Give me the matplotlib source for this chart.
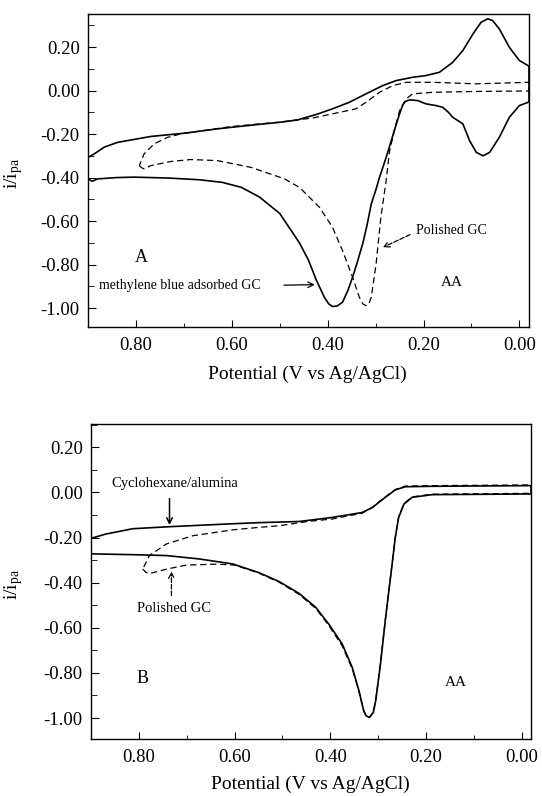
import matplotlib
matplotlib.use("Agg")
import matplotlib.pyplot as plt
from matplotlib.ticker import MultipleLocator, FormatStrFormatter

plt.rcParams['font.family'] = 'Liberation Serif'
plt.rcParams['mathtext.fontset'] = 'custom'
plt.rcParams['mathtext.rm'] = 'Liberation Serif'
plt.rcParams['mathtext.it'] = 'Liberation Serif'

# ---- panel A: methylene blue adsorbed GC (solid) ----
a_solid_E = [0.905, 0.897, 0.891, 0.88, 0.84, 0.804, 0.734, 0.668, 0.62, 0.58, 0.542, 0.50,
             0.459, 0.44, 0.424, 0.407, 0.398, 0.39, 0.38, 0.369, 0.358, 0.348, 0.337,
             0.327, 0.318, 0.309, 0.30, 0.292, 0.278, 0.27, 0.261, 0.25, 0.244, 0.24,
             0.233, 0.226, 0.212, 0.195, 0.174, 0.16, 0.148, 0.139, 0.118, 0.104, 0.09,
             0.076, 0.062, 0.042, 0.021, 0.0, -0.018, -0.02,
             -0.02, -0.018, 0.0, 0.021, 0.042, 0.056, 0.066, 0.08, 0.097, 0.118, 0.139,
             0.167, 0.195, 0.223, 0.257, 0.285, 0.32, 0.355, 0.39, 0.424, 0.463, 0.50,
             0.542, 0.63, 0.699, 0.769, 0.838, 0.866, 0.887, 0.90, 0.905]
a_solid_I = [-0.395, -0.41, -0.417, -0.406, -0.40, -0.398, -0.402, -0.41, -0.422, -0.445,
             -0.49, -0.565, -0.70, -0.78, -0.87, -0.95, -0.98, -0.993, -0.99, -0.973,
             -0.92, -0.858, -0.78, -0.705, -0.62, -0.521, -0.46, -0.40, -0.307, -0.25,
             -0.184, -0.107, -0.07, -0.054, -0.045, -0.043, -0.046, -0.061, -0.069,
             -0.077, -0.10, -0.123, -0.153, -0.23, -0.284, -0.30, -0.284, -0.215,
             -0.123, -0.069, -0.054, -0.05,
             0.11, 0.115, 0.138, 0.199, 0.284, 0.322, 0.33, 0.314, 0.26, 0.184, 0.13,
             0.084, 0.069, 0.061, 0.046, 0.023, -0.015, -0.054, -0.084, -0.11, -0.135,
             -0.146, -0.155, -0.176, -0.196, -0.211, -0.238, -0.26, -0.291, -0.307, -0.35]

# ---- panel A: polished GC (dashed) ----
a_dash_E = [0.793, 0.788, 0.783, 0.769, 0.727, 0.685, 0.63, 0.56, 0.49, 0.459, 0.417, 0.39,
            0.369, 0.348, 0.334, 0.327, 0.32, 0.314, 0.309, 0.299, 0.289, 0.278, 0.271,
            0.261, 0.25, 0.236, 0.223, 0.181, 0.09, -0.02,
            -0.02, 0.09, 0.181, 0.236, 0.264, 0.292, 0.32, 0.341, 0.39, 0.431, 0.50,
            0.60, 0.706, 0.734, 0.762, 0.783, 0.793]
a_dash_I = [-0.345, -0.355, -0.36, -0.345, -0.326, -0.317, -0.322, -0.353, -0.406, -0.445,
            -0.537, -0.628, -0.736, -0.858, -0.95, -0.98, -0.989, -0.98, -0.95, -0.797,
            -0.582, -0.414, -0.28, -0.184, -0.092, -0.038, -0.015, -0.008, -0.004, -0.002,
            0.038, 0.031, 0.038, 0.038, 0.023, -0.008, -0.054, -0.084, -0.107, -0.126,
            -0.145, -0.165, -0.199, -0.215, -0.245, -0.291, -0.345]

# ---- panel B: cyclohexane/alumina (solid) ----
b_solid_E = [0.91, 0.813, 0.742, 0.674, 0.604, 0.55, 0.507, 0.465, 0.43, 0.403, 0.375,
             0.354, 0.34, 0.33, 0.325, 0.318, 0.31, 0.305, 0.295, 0.285, 0.274, 0.264,
             0.257, 0.246, 0.229, 0.187, -0.02,
             -0.02, 0.187, 0.243, 0.264, 0.285, 0.312, 0.333, 0.396, 0.465, 0.549, 0.604,
             0.736, 0.813, 0.87, 0.91]
b_solid_I = [-0.272, -0.276, -0.28, -0.295, -0.317, -0.355, -0.395, -0.448, -0.51, -0.584,
             -0.672, -0.776, -0.879, -0.968, -0.99, -0.998, -0.975, -0.924, -0.761, -0.569,
             -0.377, -0.20, -0.111, -0.052, -0.022, -0.01, -0.007,
             0.03, 0.027, 0.025, 0.011, -0.022, -0.067, -0.089, -0.111, -0.129, -0.134,
             -0.139, -0.152, -0.161, -0.185, -0.21]

# ---- panel B: polished GC (dashed) ----
b_dash_E = [0.792, 0.785, 0.778, 0.76, 0.742, 0.70, 0.638, 0.60, 0.55, 0.507, 0.465, 0.43,
            0.403, 0.375, 0.354, 0.34, 0.33, 0.325, 0.318, 0.31, 0.305, 0.295, 0.285,
            0.274, 0.264, 0.257, 0.246, 0.229, 0.187, -0.02,
            -0.02, 0.187, 0.243, 0.264, 0.285, 0.312, 0.333, 0.396, 0.444, 0.507, 0.549,
            0.604, 0.687, 0.742, 0.778, 0.792]
b_dash_I = [-0.34, -0.355, -0.36, -0.35, -0.34, -0.322, -0.318, -0.322, -0.357, -0.398,
            -0.452, -0.515, -0.59, -0.68, -0.782, -0.882, -0.968, -0.99, -0.997, -0.973,
            -0.921, -0.758, -0.566, -0.374, -0.197, -0.108, -0.05, -0.02, -0.008, -0.004,
            0.033, 0.03, 0.028, 0.013, -0.02, -0.066, -0.092, -0.118, -0.128, -0.148,
            -0.155, -0.166, -0.192, -0.228, -0.28, -0.34]

x_ticks = [0.80, 0.60, 0.40, 0.20, 0.00]

fig = plt.figure(figsize=(5.42, 7.96), dpi=100)
axA = fig.add_axes([0.1624, 0.5892, 0.8136, 0.3932])
axB = fig.add_axes([0.168, 0.0716, 0.812, 0.3957])

def style(ax, ylim, lab_x, lab_y):
    ax.set_xlim(0.90, -0.02)
    ax.set_ylim(*ylim)
    ax.set_xticks(x_ticks)
    ax.xaxis.set_minor_locator(MultipleLocator(0.1))
    ax.yaxis.set_major_locator(MultipleLocator(0.2))
    ax.yaxis.set_minor_locator(MultipleLocator(0.1))
    ax.xaxis.set_major_formatter(FormatStrFormatter('%.2f'))
    ax.yaxis.set_major_formatter(FormatStrFormatter('%.2f'))
    ax.tick_params(which='both', direction='in', top=False, right=False, labelsize=13.5)
    ax.tick_params(axis='x', which='major', length=5, pad=7)
    ax.tick_params(axis='x', which='minor', length=3)
    ax.tick_params(axis='y', which='major', length=6, pad=6)
    ax.tick_params(axis='y', which='minor', length=4)
    for s in ax.spines.values():
        s.set_linewidth(1.0)
    ax.set_xlabel('Potential (V vs Ag/AgCl)', fontsize=14)
    ax.set_ylabel(r'i/i$_{\rm pa}$', fontsize=14)
    ax.xaxis.set_label_coords(0.498, lab_x)
    ax.yaxis.set_label_coords(lab_y, 0.49)

style(axA, (-1.087, 0.352), -0.125, -0.143)
style(axB, (-1.093, 0.303), -0.118, -0.15)

# panel A
axA.plot(a_solid_E, a_solid_I, color='black', lw=1.2)
axA.plot(a_dash_E, a_dash_I, color='black', lw=0.9, ls=(0, (5, 3)))
axA.text(0.789, -0.768, 'A', fontsize=13, ha='center', va='center')
axA.text(0.14, -0.883, 'AA', fontsize=11, ha='center', va='center')
axA.text(0.877, -0.897, 'methylene blue adsorbed GC', fontsize=10, ha='left', va='center')
axA.annotate('', xy=(0.421, -0.892), xytext=(0.497, -0.895),
             arrowprops=dict(arrowstyle='->', color='black', lw=0.9))
axA.text(0.215, -0.644, 'Polished GC', fontsize=10, ha='left', va='center')
axA.annotate('', xy=(0.29, -0.726), xytext=(0.223, -0.657),
             arrowprops=dict(arrowstyle='->', color='black', lw=0.9, linestyle='--'))

# panel B
axB.plot(b_solid_E, b_solid_I, color='black', lw=1.2)
axB.plot(b_dash_E, b_dash_I, color='black', lw=0.9, ls=(0, (5, 3)))
axB.text(0.724, 0.039, 'Cyclohexane/alumina', fontsize=10.5, ha='center', va='center')
axB.annotate('', xy=(0.736, -0.157), xytext=(0.736, -0.015),
             arrowprops=dict(arrowstyle='->', color='black', lw=1.1))
axB.text(0.727, -0.516, 'Polished GC', fontsize=10.5, ha='center', va='center')
axB.annotate('', xy=(0.732, -0.338), xytext=(0.732, -0.47),
             arrowprops=dict(arrowstyle='->', color='black', lw=0.9, linestyle='--'))
axB.text(0.792, -0.827, 'B', fontsize=13, ha='center', va='center')
axB.text(0.138, -0.844, 'AA', fontsize=11, ha='center', va='center')

fig.savefig('out.png', dpi=100)
